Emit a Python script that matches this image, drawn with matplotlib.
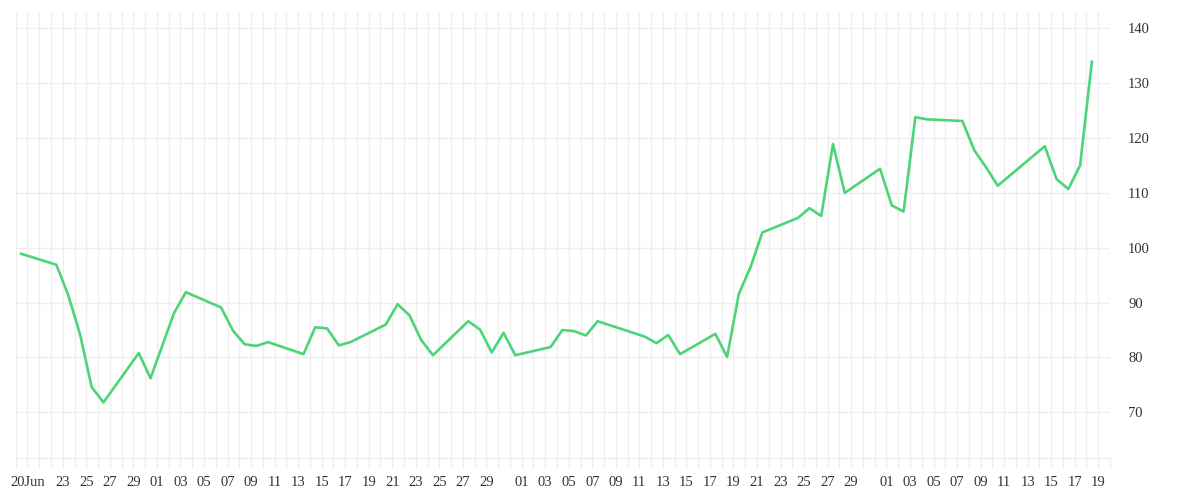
import datetime as dt
import matplotlib
matplotlib.use("Agg")
import matplotlib.pyplot as plt
import matplotlib.dates as mdates
from matplotlib.ticker import FuncFormatter, FixedLocator

# daily closes (points sit at ~11:00 of each trading day)
dates = [
    "2020-06-19", "2020-06-22", "2020-06-23", "2020-06-24", "2020-06-25", "2020-06-26",
    "2020-06-29", "2020-06-30", "2020-07-02", "2020-07-03",
    "2020-07-06", "2020-07-07", "2020-07-08", "2020-07-09", "2020-07-10",
    "2020-07-13", "2020-07-14", "2020-07-15", "2020-07-16", "2020-07-17",
    "2020-07-20", "2020-07-21", "2020-07-22", "2020-07-23", "2020-07-24",
    "2020-07-27", "2020-07-28", "2020-07-29", "2020-07-30", "2020-07-31",
    "2020-08-03", "2020-08-04", "2020-08-05", "2020-08-06", "2020-08-07",
    "2020-08-11", "2020-08-12", "2020-08-13", "2020-08-14",
    "2020-08-17", "2020-08-18", "2020-08-19", "2020-08-20", "2020-08-21",
    "2020-08-24", "2020-08-25", "2020-08-26", "2020-08-27", "2020-08-28",
    "2020-08-31", "2020-09-01", "2020-09-02", "2020-09-03", "2020-09-04",
    "2020-09-07", "2020-09-08", "2020-09-09", "2020-09-10",
    "2020-09-14", "2020-09-15", "2020-09-16", "2020-09-17", "2020-09-18",
]
values = [
    98.9, 96.9, 91.4, 84.3, 74.6, 71.8,
    80.8, 76.2, 88.1, 91.9,
    89.1, 84.9, 82.4, 82.1, 82.8,
    80.6, 85.5, 85.3, 82.2, 82.8,
    86.0, 89.7, 87.7, 83.2, 80.4,
    86.6, 85.1, 80.9, 84.5, 80.4,
    81.9, 85.0, 84.8, 84.0, 86.6,
    83.8, 82.6, 84.1, 80.6,
    84.3, 80.1, 91.6, 96.5, 102.8,
    105.4, 107.2, 105.8, 118.9, 110.0,
    114.4, 107.7, 106.6, 123.8, 123.4,
    123.1, 117.8, 114.7, 111.3,
    118.5, 112.5, 110.7, 115.0, 133.9,
]
y_ticks = [70, 80, 90, 100, 110, 120, 130, 140]

GRID = "#eeeeee"
LINE = "#4cd479"
TEXT = "#333333"

x = [dt.datetime.strptime(d, "%Y-%m-%d") + dt.timedelta(hours=11) for d in dates]

fig = plt.figure(figsize=(12, 5), dpi=100)
ax = fig.add_axes([15.7 / 1200, 1 - 458 / 500, (1110 - 15.7) / 1200, (458 - 12) / 500])

ax.plot(x, values, color=LINE, linewidth=1.9, solid_joinstyle="round", zorder=3)

start = dt.datetime(2020, 6, 19)
end = dt.datetime(2020, 9, 20)
ax.set_xlim(start, end)
ax.set_ylim(61.67, 142.97)

days = [start + dt.timedelta(days=i) for i in range((end - start).days + 1)]
ax.xaxis.set_major_locator(FixedLocator(mdates.date2num(days)))


def day_label(v, pos):
    d = mdates.num2date(v).replace(tzinfo=None)
    if d.date() == dt.date(2020, 6, 20):
        return "20Jun"
    if d >= dt.datetime(2020, 6, 23) and d.day % 2 == 1 and d.day != 31:
        return "%02d" % d.day
    return ""


ax.xaxis.set_major_formatter(FuncFormatter(day_label))
ax.set_yticks(y_ticks)
ax.yaxis.tick_right()

for s in ["top", "left", "right"]:
    ax.spines[s].set_visible(False)
ax.spines["bottom"].set_color(GRID)
ax.spines["bottom"].set_linewidth(1)

ax.grid(True, color=GRID, linewidth=1)
ax.tick_params(axis="x", length=7.2, width=1, color=GRID, pad=6,
               labelsize=10.5, labelcolor=TEXT)
ax.tick_params(axis="y", length=0, pad=13, labelsize=10.5, labelcolor=TEXT)
for lab in ax.get_xticklabels() + ax.get_yticklabels():
    lab.set_family(["Liberation Serif", "DejaVu Serif"])

fig.savefig("out.png", dpi=100, facecolor="white")
